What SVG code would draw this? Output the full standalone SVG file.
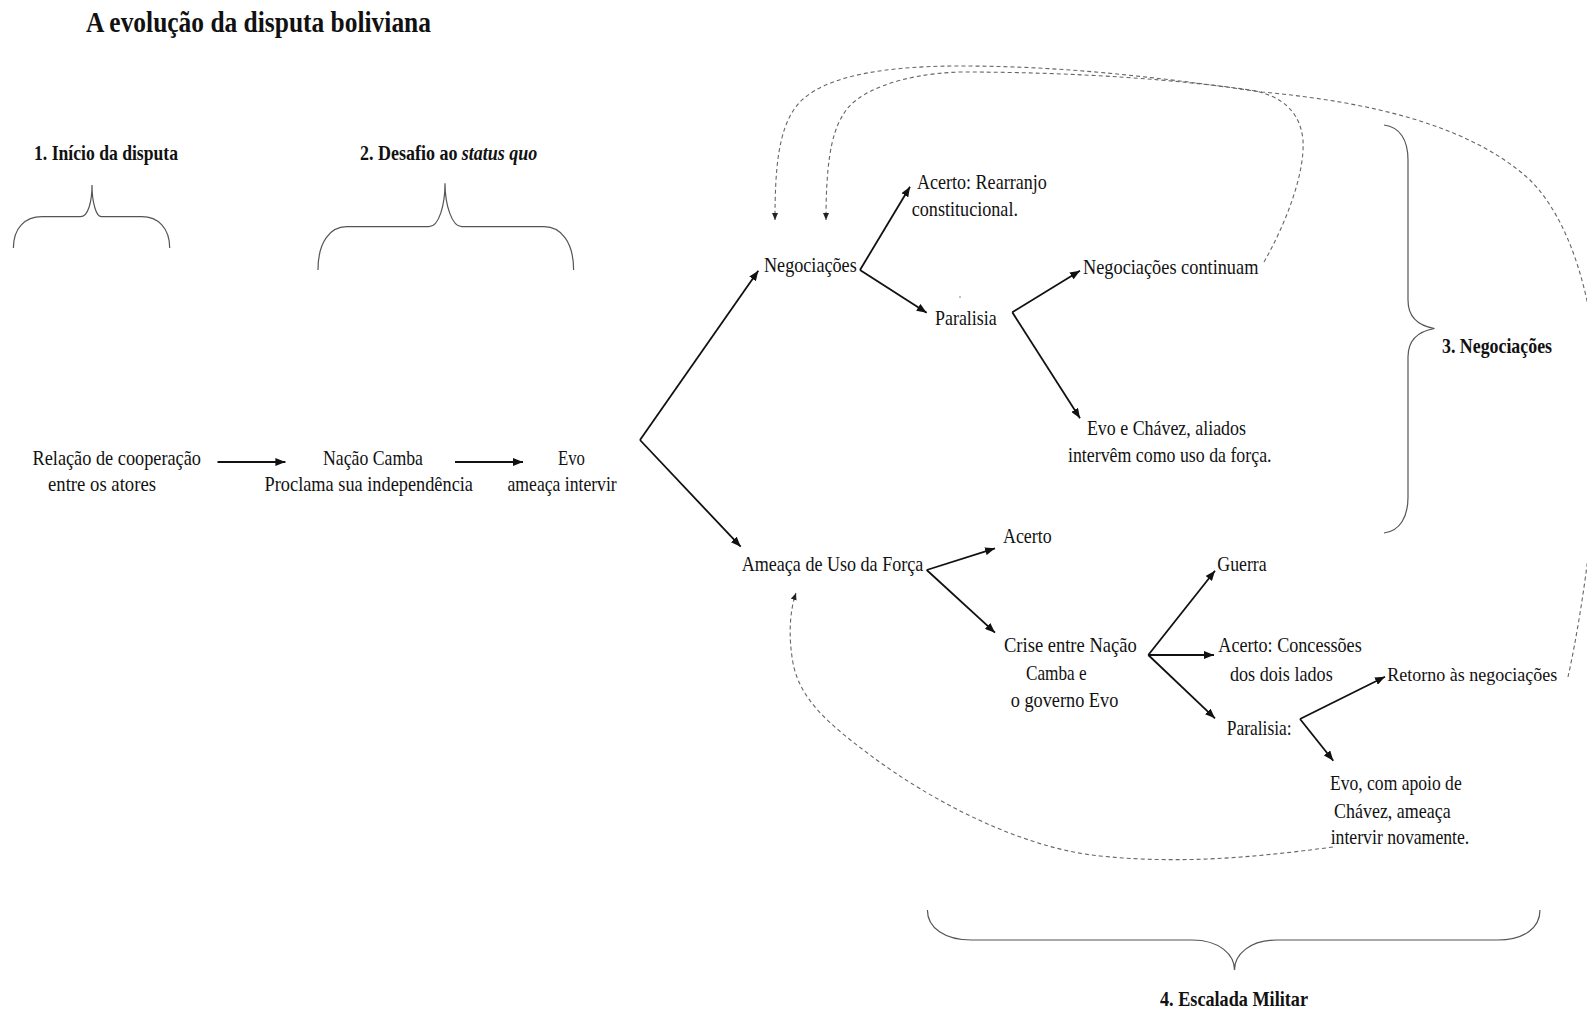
<svg xmlns="http://www.w3.org/2000/svg" width="1587" height="1011" viewBox="0 0 1587 1011">
  <style>
    .t { font-family: "Liberation Serif", "Times New Roman", serif; font-size: 22px; fill: #111; }
    .h { font-weight: bold; font-size: 22px; }
    .title { font-weight: bold; font-size: 29px; }
    .it { font-style: italic; }
    .arr { stroke: #111; stroke-width: 1.8; fill: none; marker-end: url(#ah); }
    .dash { stroke: #666; stroke-width: 1.1; fill: none; stroke-dasharray: 4 3; marker-end: url(#ahs); }
    .brace { stroke: #555; stroke-width: 1.2; fill: none; }
  </style>
  <defs>
    <marker id="ah" markerUnits="userSpaceOnUse" markerWidth="11" markerHeight="8" refX="10" refY="4" orient="auto">
      <path d="M0,0 L10,4 L0,8 z" fill="#111"/>
    </marker>
    <marker id="ahs" markerUnits="userSpaceOnUse" markerWidth="8" markerHeight="6" refX="7" refY="3" orient="auto">
      <path d="M0,0 L7,3 L0,6 z" fill="#222"/>
    </marker>
  </defs>
  <rect width="1587" height="1011" fill="#fff"/>

  <!-- headings -->
  <g id="title">
    <text class="t title" x="86" y="32" textLength="345" lengthAdjust="spacingAndGlyphs">A evolução da disputa boliviana</text>
  </g>
  <g id="phase1">
    <text class="t h" x="34" y="160" textLength="144" lengthAdjust="spacingAndGlyphs">1. Início da disputa</text>
    <path class="brace" d="M13.4,248 C13.4,228 25,216.7 42,216.7 L80.5,216.7 C88,216.7 92,202 92,185 C92,202 96,216.7 101.5,216.7 L141.8,216.7 C158,216.7 169.7,228 169.7,248"/>
  </g>
  <g id="phase2">
    <text class="t h" transform="translate(360,160) scale(0.818,1)">2.  Desafio ao <tspan class="it">status quo</tspan></text>
    <path class="brace" d="M318,270 C318,242 330,226.7 346.7,226.7 L429,226.7 C439,226.7 445,205 445,183.3 C445,205 452,226.7 461.7,226.7 L544,226.7 C561,226.7 573.6,242 573.6,270"/>
  </g>
  <g id="phase3">
    <text class="t h" x="1442" y="353" textLength="110" lengthAdjust="spacingAndGlyphs">3. Negociações</text>
    <path class="brace" d="M1384,125 C1400,127 1408,140 1408,160 L1408,300 C1408,318 1420,326 1434.5,328.5 C1420,331 1408,339 1408,357 L1408,497 C1408,517 1400,531 1384,533"/>
  </g>
  <g id="phase4">
    <text class="t h" x="1160" y="1006" textLength="148" lengthAdjust="spacingAndGlyphs">4. Escalada Militar</text>
    <path class="brace" d="M927.4,910 C927.4,928 945,940 971.5,940 L1192,940 C1220,940 1234.5,955 1234.5,970 C1234.5,955 1249,940 1277,940 L1497.5,940 C1524,940 1540,928 1540,910"/>
  </g>

  <!-- nodes -->
  <g id="cooperacao">
    <text class="t" x="32.5" y="465" textLength="168.5" lengthAdjust="spacingAndGlyphs">Relação de cooperação</text>
    <text class="t" x="48" y="491" textLength="108" lengthAdjust="spacingAndGlyphs">entre os atores</text>
  </g>
  <g id="nacao-camba">
    <text class="t" x="323" y="465" textLength="100" lengthAdjust="spacingAndGlyphs">Nação Camba</text>
    <text class="t" x="264.6" y="491" textLength="208.4" lengthAdjust="spacingAndGlyphs">Proclama sua independência</text>
  </g>
  <g id="evo-ameaca">
    <text class="t" x="558" y="465" textLength="27" lengthAdjust="spacingAndGlyphs">Evo</text>
    <text class="t" x="507.5" y="491" textLength="109.2" lengthAdjust="spacingAndGlyphs">ameaça intervir</text>
  </g>
  <g id="negociacoes">
    <text class="t" x="764" y="272" textLength="92.7" lengthAdjust="spacingAndGlyphs">Negociações</text>
  </g>
  <g id="acerto-rearranjo">
    <text class="t" x="917" y="189" textLength="129.7" lengthAdjust="spacingAndGlyphs">Acerto: Rearranjo</text>
    <text class="t" x="911.7" y="216" textLength="106.3" lengthAdjust="spacingAndGlyphs">constitucional.</text>
  </g>
  <g id="paralisia-1">
    <text class="t" x="935" y="325" textLength="61.7" lengthAdjust="spacingAndGlyphs">Paralisia</text>
    <circle cx="960" cy="297" r="0.8" fill="#777"/>
  </g>
  <g id="negociacoes-continuam">
    <text class="t" x="1083" y="274" textLength="175.4" lengthAdjust="spacingAndGlyphs">Negociações continuam</text>
  </g>
  <g id="evo-chavez-intervem">
    <text class="t" x="1086.9" y="435" textLength="159.1" lengthAdjust="spacingAndGlyphs">Evo e Chávez, aliados</text>
    <text class="t" x="1068" y="462" textLength="203.5" lengthAdjust="spacingAndGlyphs">intervêm como uso da força.</text>
  </g>
  <g id="ameaca-forca">
    <text class="t" x="741.7" y="571" textLength="181.6" lengthAdjust="spacingAndGlyphs">Ameaça de Uso da Força</text>
  </g>
  <g id="acerto">
    <text class="t" x="1003" y="543" textLength="48.7" lengthAdjust="spacingAndGlyphs">Acerto</text>
  </g>
  <g id="crise">
    <text class="t" x="1004" y="652" textLength="132.7" lengthAdjust="spacingAndGlyphs">Crise  entre Nação</text>
    <text class="t" x="1026" y="680" textLength="60.7" lengthAdjust="spacingAndGlyphs">Camba e</text>
    <text class="t" x="1010.7" y="707" textLength="107.6" lengthAdjust="spacingAndGlyphs">o governo Evo</text>
  </g>
  <g id="guerra">
    <text class="t" x="1217.3" y="571" textLength="49.4" lengthAdjust="spacingAndGlyphs">Guerra</text>
  </g>
  <g id="acerto-concessoes">
    <text class="t" x="1218.3" y="652" textLength="143.4" lengthAdjust="spacingAndGlyphs">Acerto: Concessões</text>
    <text class="t" x="1230" y="681" textLength="102.7" lengthAdjust="spacingAndGlyphs">dos dois lados</text>
  </g>
  <g id="paralisia-2">
    <text class="t" x="1226.7" y="735" textLength="65" lengthAdjust="spacingAndGlyphs">Paralisia:</text>
  </g>
  <g id="retorno">
    <text class="t" x="1387.3" y="681" style="font-size:19px" textLength="170" lengthAdjust="spacingAndGlyphs">Retorno às negociações</text>
  </g>
  <g id="evo-chavez-ameaca">
    <text class="t" x="1330" y="790" textLength="131.7" lengthAdjust="spacingAndGlyphs">Evo, com apoio de</text>
    <text class="t" x="1334" y="818" textLength="116.7" lengthAdjust="spacingAndGlyphs">Chávez, ameaça</text>
    <text class="t" x="1330.7" y="844" textLength="138.6" lengthAdjust="spacingAndGlyphs">intervir novamente.</text>
  </g>

  <!-- connectors -->
  <g id="connectors">
    <line class="arr" x1="217.5" y1="462" x2="285.4" y2="462"/>
    <line class="arr" x1="455" y1="462" x2="523" y2="462"/>
    <line class="arr" x1="640" y1="440" x2="758.3" y2="270.7"/>
    <line class="arr" x1="640" y1="440" x2="740.7" y2="546.7"/>
    <line class="arr" x1="860" y1="270" x2="910" y2="186.7"/>
    <line class="arr" x1="860" y1="270" x2="926.7" y2="312.7"/>
    <line class="arr" x1="1012.3" y1="312.3" x2="1080" y2="270.7"/>
    <line class="arr" x1="1012.3" y1="312.3" x2="1080" y2="418.3"/>
    <line class="arr" x1="926.7" y1="570" x2="995" y2="548.3"/>
    <line class="arr" x1="926.7" y1="570" x2="995" y2="632.7"/>
    <line class="arr" x1="1148.3" y1="655" x2="1215" y2="570.7"/>
    <line class="arr" x1="1148.3" y1="655" x2="1214" y2="655"/>
    <line class="arr" x1="1148.3" y1="655" x2="1215" y2="718.3"/>
    <line class="arr" x1="1300" y1="719" x2="1385" y2="676.7"/>
    <line class="arr" x1="1300" y1="719" x2="1333.3" y2="760.7"/>

    <!-- feedback loops -->
    <path class="dash" d="M1568,677 C1585,600 1600,480 1598,400 C1596,300 1570,220 1530,180 C1470,125 1370,102 1262,92 C1150,76 1060,66 960,66 C870,66 815,80 795,108 C778,132 775,170 775,220"/>
    <path class="dash" d="M1264,262 C1285,225 1305,175 1303,140 C1300,110 1280,95 1250,90 C1180,80 1080,72 960,72 C900,74 855,92 843,115 C830,135 826,170 826,220"/>
    <path class="dash" d="M1333,847 C1250,858 1180,864 1100,856 C1020,848 930,800 870,755 C830,725 800,700 793,663 C788,635 790,610 796,593"/>
  </g>
</svg>
